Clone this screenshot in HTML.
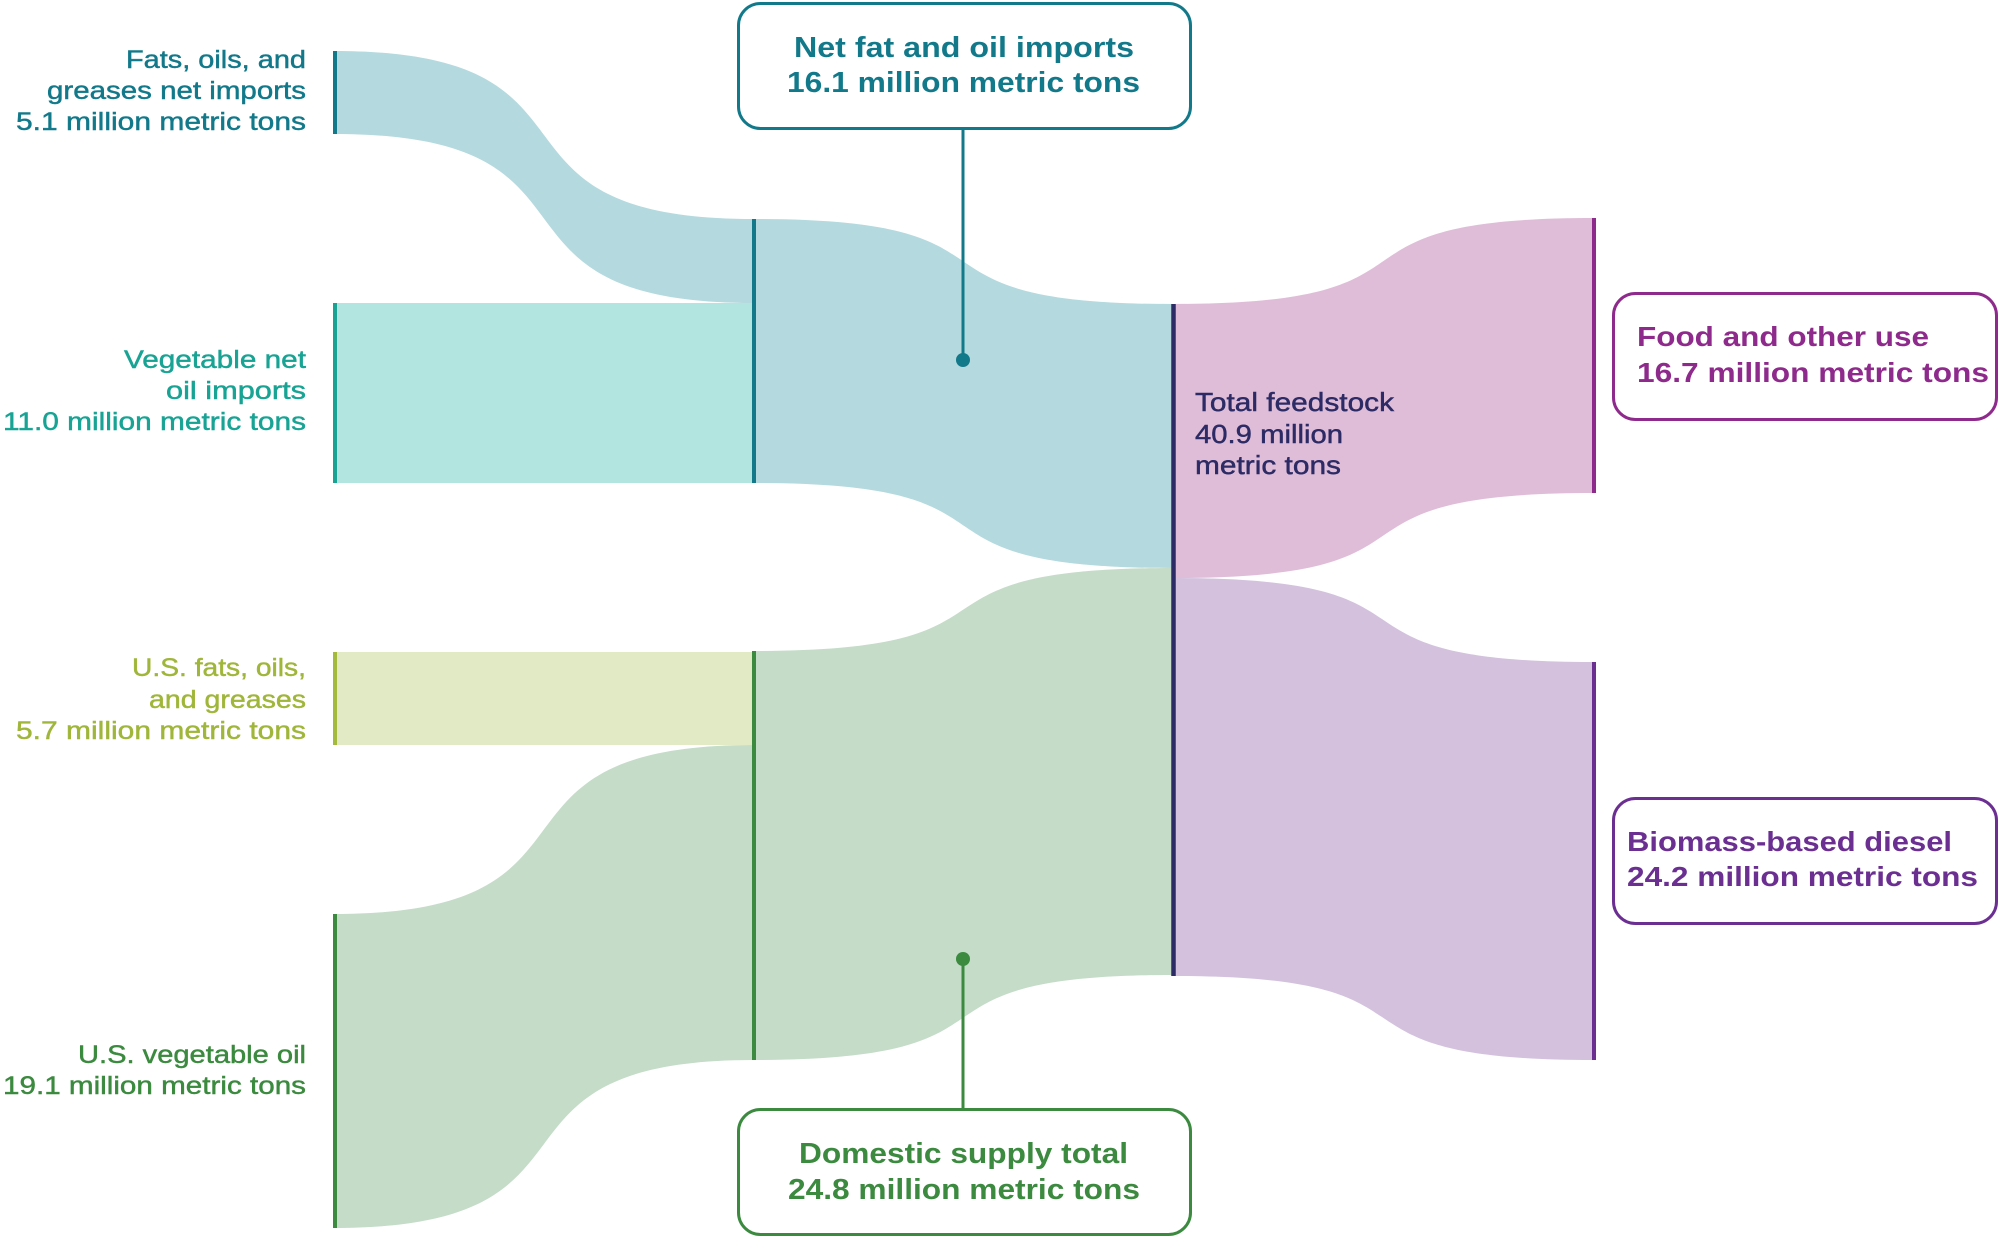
<!DOCTYPE html>
<html>
<head>
<meta charset="utf-8">
<style>
  html,body{margin:0;padding:0;background:#ffffff;}
  svg{display:block;}
  text{font-family:"Liberation Sans", sans-serif;}
  .lbl{font-size:25px;stroke-width:0.45px;}
  .bx{font-size:29px;font-weight:bold;}
  .rb{font-size:28px;font-weight:bold;}
  .tf{font-size:26px;fill:#2c2b65;stroke:#2c2b65;stroke-width:0.45px;}
</style>
</head>
<body>
<svg width="2000" height="1239" viewBox="0 0 2000 1239" xmlns="http://www.w3.org/2000/svg">
  <rect x="0" y="0" width="2000" height="1239" fill="#ffffff"/>

  <!-- Flows: left to middle -->
  <path d="M334 51 C628 51 460 219 754 219 L754 303 C460 303 628 134 334 134 Z" fill="#b4d9de"/>
  <rect x="334" y="303" width="420" height="180" fill="#b3e5e0"/>
  <rect x="334" y="652" width="420" height="93" fill="#e2eac5"/>
  <path d="M334 914 C628 914 460 745 754 745 L754 1060 C460 1060 628 1228 334 1228 Z" fill="#c4dcc8"/>

  <!-- Flows: middle to center -->
  <path d="M754 219 C1047 219 880 304 1173 304 L1173 568 C880 568 1047 483 754 483 Z" fill="#b4d9de"/>
  <path d="M754 651 C1047 651 880 568 1173 568 L1173 975 C880 975 1047 1060 754 1060 Z" fill="#c4dcc8"/>

  <!-- Flows: center to right -->
  <path d="M1173 304 C1468 304 1299 218 1594 218 L1594 493 C1299 493 1468 578 1173 578 Z" fill="#dfbdd8"/>
  <path d="M1173 578 C1468 578 1299 662 1594 662 L1594 1060 C1299 1060 1468 976 1173 976 Z" fill="#d3c1dd"/>

  <!-- Node bars -->
  <line x1="335" y1="51" x2="335" y2="134" stroke="#12798a" stroke-width="4"/>
  <line x1="335" y1="303" x2="335" y2="483" stroke="#18a394" stroke-width="4"/>
  <line x1="335" y1="652" x2="335" y2="745" stroke="#a4ba3c" stroke-width="4"/>
  <line x1="335" y1="914" x2="335" y2="1228" stroke="#3b8a3f" stroke-width="4"/>
  <line x1="754" y1="219" x2="754" y2="483" stroke="#12798a" stroke-width="4"/>
  <line x1="754" y1="651" x2="754" y2="1060" stroke="#3b8a3f" stroke-width="4"/>
  <line x1="1173.5" y1="304" x2="1173.5" y2="976" stroke="#2c2b65" stroke-width="4.5"/>
  <line x1="1594" y1="218" x2="1594" y2="493" stroke="#8e2a8b" stroke-width="4"/>
  <line x1="1594" y1="662" x2="1594" y2="1060" stroke="#6b2f92" stroke-width="4"/>

  <!-- Callout connectors -->
  <line x1="963" y1="129" x2="963" y2="360" stroke="#12798a" stroke-width="3"/>
  <circle cx="963" cy="360" r="7" fill="#12798a"/>
  <line x1="963" y1="959" x2="963" y2="1109" stroke="#3b8a3f" stroke-width="3"/>
  <circle cx="963" cy="959" r="7" fill="#3b8a3f"/>

  <!-- Boxes -->
  <rect x="738.5" y="3.5" width="452" height="125" rx="22" ry="22" fill="#ffffff" stroke="#12798a" stroke-width="3"/>
  <rect x="738.5" y="1109.5" width="452" height="125" rx="22" ry="22" fill="#ffffff" stroke="#3b8a3f" stroke-width="3"/>
  <rect x="1613.5" y="293.5" width="383" height="126" rx="22" ry="22" fill="#ffffff" stroke="#8e2a8b" stroke-width="3"/>
  <rect x="1613.5" y="798.5" width="383" height="125" rx="22" ry="22" fill="#ffffff" stroke="#6b2f92" stroke-width="3"/>

  <!-- Left labels -->
  <g class="lbl" fill="#12798a" stroke="#12798a">
    <text x="126" y="68" textLength="180" lengthAdjust="spacingAndGlyphs">Fats, oils, and</text>
    <text x="47" y="99" textLength="259" lengthAdjust="spacingAndGlyphs">greases net imports</text>
    <text x="16" y="130" textLength="290" lengthAdjust="spacingAndGlyphs">5.1 million metric tons</text>
  </g>
  <g class="lbl" fill="#18a394" stroke="#18a394">
    <text x="124" y="368" textLength="182" lengthAdjust="spacingAndGlyphs">Vegetable net</text>
    <text x="166" y="399" textLength="140" lengthAdjust="spacingAndGlyphs">oil imports</text>
    <text x="3" y="430" textLength="303" lengthAdjust="spacingAndGlyphs">11.0 million metric tons</text>
  </g>
  <g class="lbl" fill="#a0b63a" stroke="#a0b63a">
    <text x="132" y="676" textLength="174" lengthAdjust="spacingAndGlyphs">U.S. fats, oils,</text>
    <text x="149" y="708" textLength="157" lengthAdjust="spacingAndGlyphs">and greases</text>
    <text x="16" y="739" textLength="290" lengthAdjust="spacingAndGlyphs">5.7 million metric tons</text>
  </g>
  <g class="lbl" fill="#3b8a3f" stroke="#3b8a3f">
    <text x="78" y="1063" textLength="228" lengthAdjust="spacingAndGlyphs">U.S. vegetable oil</text>
    <text x="3" y="1094" textLength="303" lengthAdjust="spacingAndGlyphs">19.1 million metric tons</text>
  </g>

  <!-- Center label -->
  <g class="tf">
    <text x="1195" y="411" textLength="199" lengthAdjust="spacingAndGlyphs">Total feedstock</text>
    <text x="1195" y="443" textLength="148" lengthAdjust="spacingAndGlyphs">40.9 million</text>
    <text x="1195" y="474" textLength="146" lengthAdjust="spacingAndGlyphs">metric tons</text>
  </g>

  <!-- Box texts -->
  <g class="bx" fill="#12798a">
    <text x="794" y="57" textLength="340" lengthAdjust="spacingAndGlyphs">Net fat and oil imports</text>
    <text x="787" y="92" textLength="353" lengthAdjust="spacingAndGlyphs">16.1 million metric tons</text>
  </g>
  <g class="bx" fill="#3b8a3f">
    <text x="799" y="1163" textLength="329" lengthAdjust="spacingAndGlyphs">Domestic supply total</text>
    <text x="788" y="1199" textLength="352" lengthAdjust="spacingAndGlyphs">24.8 million metric tons</text>
  </g>
  <g class="rb" fill="#8e2a8b">
    <text x="1637" y="346" textLength="292" lengthAdjust="spacingAndGlyphs">Food and other use</text>
    <text x="1637" y="382" textLength="352" lengthAdjust="spacingAndGlyphs">16.7 million metric tons</text>
  </g>
  <g class="rb" fill="#6b2f92">
    <text x="1627" y="851" textLength="325" lengthAdjust="spacingAndGlyphs">Biomass-based diesel</text>
    <text x="1627" y="886" textLength="351" lengthAdjust="spacingAndGlyphs">24.2 million metric tons</text>
  </g>
</svg>
</body>
</html>
